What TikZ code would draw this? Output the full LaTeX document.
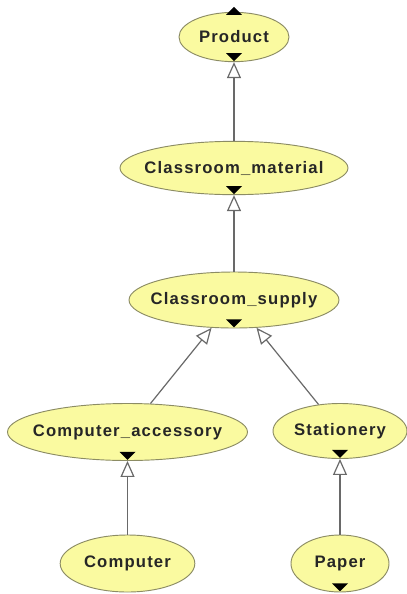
\documentclass[tikz,border=0pt]{standalone}
\usepackage{fontspec}
\newfontfamily\conceptfont[LetterSpace=7]{Liberation Sans}
\usepackage{tikz}
\usetikzlibrary{arrows.meta, shapes.geometric}
\definecolor{conceptfill}{RGB}{250,250,160}
\definecolor{conceptline}{RGB}{140,140,100}
\definecolor{isaline}{RGB}{105,105,105}
\newcommand{\cname}[1]{\makebox[0pt]{#1}}
\tikzstyle{concept} = [ellipse, draw=conceptline, fill=conceptfill, line width=0.7pt, inner sep=0pt, text=black!85, font=\conceptfont\bfseries\fontsize{12.5}{14}\selectfont]
\tikzstyle{isa} = [draw=isaline, line width=0.9pt, -{Triangle[open, length=12pt, width=10.5pt]}]
\tikzstyle{expand} = [fill=black]

\begin{document}
\begin{tikzpicture}[x=0.75pt, y=-0.75pt]
					\useasboundingbox [fill=white] (0,0) rectangle (407,594);

					\node (Product) [concept, minimum width=82.5pt, minimum height=37pt] at (234, 37) {\cname{Product}};
					\node (ClassMat) [concept, minimum width=171pt, minimum height=40pt] at (234, 168) {\cname{Classroom\_material}};
					\node (ClassSup) [concept, minimum width=157.5pt, minimum height=42pt] at (234, 300) {\cname{Classroom\_supply}};
					\node (CompAcc) [concept, minimum width=180pt, minimum height=42.75pt] at (127.5, 432) {\cname{Computer\_accessory}};
					\node (Stat) [concept, minimum width=100.5pt, minimum height=41.25pt] at (340, 431) {\cname{Stationery}};
					\node (Comp) [concept, minimum width=101pt, minimum height=42.75pt] at (127.5, 563.5) {\cname{Computer}};
					\node (Paper) [concept, minimum width=73.5pt, minimum height=42.75pt] at (340, 563.5) {\cname{Paper}};

					\draw [isa] (ClassMat) -- (Product);
					\draw [isa] (ClassSup) -- (ClassMat);
					\draw [isa] (CompAcc) -- (ClassSup);
					\draw [isa] (Stat) -- (ClassSup);
					\draw [isa] (Comp) -- (CompAcc);
					\draw [isa] (Paper) -- (Stat);

					\fill [expand] (Product.north) ++(0,-5) -- ++(8,8) -- ++(-16,0) -- cycle;
					\fill [expand] (Product.south) ++(0,-1) -- ++(-8,-8) -- ++(16,0) -- cycle;
					\fill [expand] (ClassMat.south) ++(0,-1) -- ++(-8,-8) -- ++(16,0) -- cycle;
					\fill [expand] (ClassSup.south) ++(0,-1) -- ++(-8,-8) -- ++(16,0) -- cycle;
					\fill [expand] (CompAcc.south) ++(0,-1) -- ++(-8,-8) -- ++(16,0) -- cycle;
					\fill [expand] (Stat.south) ++(0,-1) -- ++(-8,-8) -- ++(16,0) -- cycle;
					\fill [expand] (Paper.south) ++(0,-1) -- ++(-8,-8) -- ++(16,0) -- cycle;

				\end{tikzpicture}
\end{document}
